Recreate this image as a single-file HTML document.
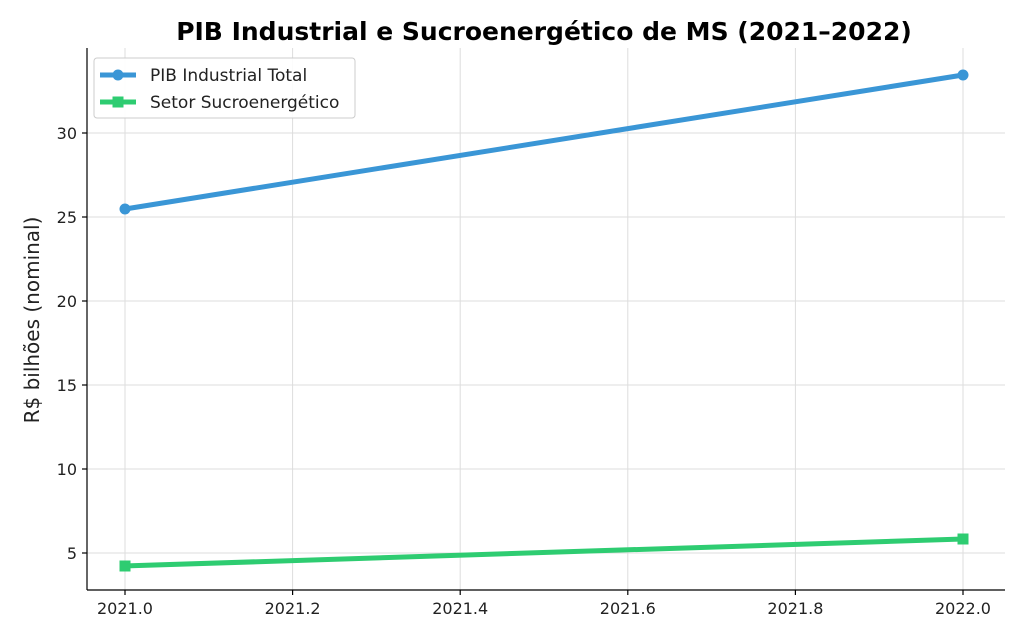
<!DOCTYPE html>
<html><head><meta charset="utf-8"><style>
body{margin:0;background:#fff;}
svg{display:block;font-family:"DejaVu Sans","Liberation Sans",sans-serif;}
</style></head><body>
<svg width="1024" height="640" viewBox="0 0 1024 640" xmlns="http://www.w3.org/2000/svg">
<rect width="1024" height="640" fill="#fff"/>
<text x="544" y="40" text-anchor="middle" font-size="25" font-weight="bold" fill="#000">PIB Industrial e Sucroenergético de MS (2021–2022)</text>
<g stroke="#dddddd" stroke-width="1">
<line x1="125" y1="48" x2="125" y2="590"/><line x1="292.6" y1="48" x2="292.6" y2="590"/>
<line x1="460.2" y1="48" x2="460.2" y2="590"/><line x1="627.8" y1="48" x2="627.8" y2="590"/>
<line x1="795.4" y1="48" x2="795.4" y2="590"/><line x1="963" y1="48" x2="963" y2="590"/>
<line x1="87" y1="133" x2="1005" y2="133"/><line x1="87" y1="217" x2="1005" y2="217"/>
<line x1="87" y1="301" x2="1005" y2="301"/><line x1="87" y1="385" x2="1005" y2="385"/>
<line x1="87" y1="469" x2="1005" y2="469"/><line x1="87" y1="553" x2="1005" y2="553"/>
</g>
<g stroke="#000" stroke-width="1.2">
<line x1="87" y1="48" x2="87" y2="590"/><line x1="87" y1="590" x2="1005" y2="590"/>
<line x1="125" y1="590" x2="125" y2="595"/><line x1="292.6" y1="590" x2="292.6" y2="595"/>
<line x1="460.2" y1="590" x2="460.2" y2="595"/><line x1="627.8" y1="590" x2="627.8" y2="595"/>
<line x1="795.4" y1="590" x2="795.4" y2="595"/><line x1="963" y1="590" x2="963" y2="595"/>
<line x1="82" y1="133" x2="87" y2="133"/><line x1="82" y1="217" x2="87" y2="217"/>
<line x1="82" y1="301" x2="87" y2="301"/><line x1="82" y1="385" x2="87" y2="385"/>
<line x1="82" y1="469" x2="87" y2="469"/><line x1="82" y1="553" x2="87" y2="553"/>
</g>
<g font-size="16" fill="#222" text-anchor="middle">
<text x="125" y="614">2021.0</text><text x="292.6" y="614">2021.2</text><text x="460.2" y="614">2021.4</text>
<text x="627.8" y="614">2021.6</text><text x="795.4" y="614">2021.8</text><text x="963" y="614">2022.0</text>
</g>
<g font-size="16" fill="#222" text-anchor="end">
<text x="77" y="139">30</text><text x="77" y="223">25</text><text x="77" y="307">20</text>
<text x="77" y="391">15</text><text x="77" y="475">10</text><text x="77" y="559">5</text>
</g>
<text transform="translate(39,320) rotate(-90)" text-anchor="middle" font-size="20" fill="#222">R$ bilhões (nominal)</text>
<line x1="125" y1="209" x2="963" y2="75" stroke="#3a96d6" stroke-width="5"/>
<circle cx="125" cy="209" r="5.5" fill="#3a96d6"/><circle cx="963" cy="75" r="5.5" fill="#3a96d6"/>
<line x1="125" y1="566" x2="963" y2="539" stroke="#2ecc71" stroke-width="5"/>
<rect x="119.5" y="560.5" width="11" height="11" fill="#2ecc71"/><rect x="957.5" y="533.5" width="11" height="11" fill="#2ecc71"/>
<rect x="94" y="58" width="261" height="60" rx="3" fill="#fff" fill-opacity="0.9" stroke="#ccc"/>
<line x1="100" y1="75" x2="136" y2="75" stroke="#3a96d6" stroke-width="5"/><circle cx="118" cy="75" r="5.5" fill="#3a96d6"/>
<line x1="100" y1="102" x2="136" y2="102" stroke="#2ecc71" stroke-width="5"/><rect x="112.5" y="96.5" width="11" height="11" fill="#2ecc71"/>
<text x="150" y="81" font-size="17" fill="#222">PIB Industrial Total</text>
<text x="150" y="108" font-size="17" fill="#222">Setor Sucroenergético</text>
</svg>
</body></html>
